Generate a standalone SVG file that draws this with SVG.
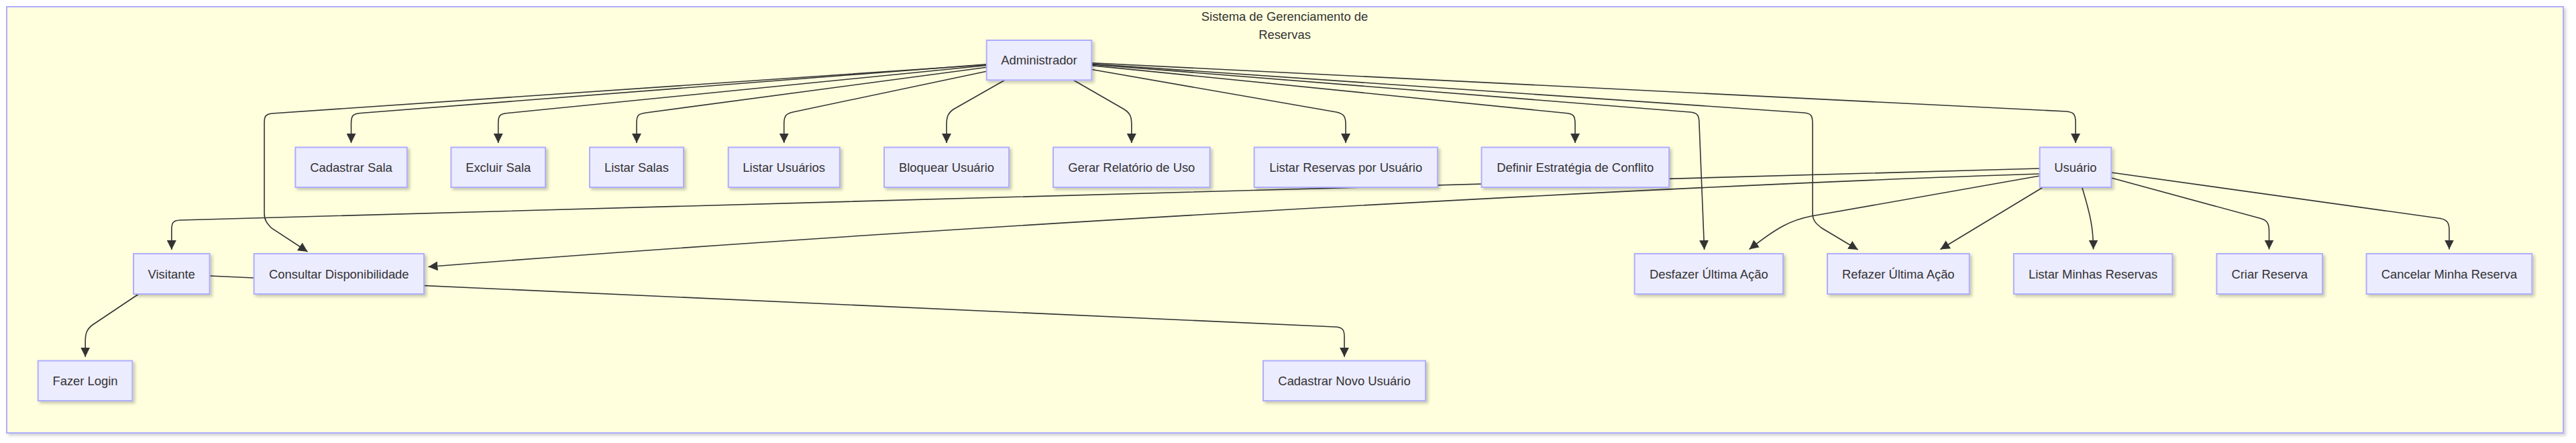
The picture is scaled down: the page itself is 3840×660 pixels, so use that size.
<svg xmlns="http://www.w3.org/2000/svg" width="3840" height="660" viewBox="0 0 3840 660">
<defs>
<style>
.node rect{fill:#ECECFF;stroke:#AEAEFF;stroke-width:2;filter:url(#sh);}
.node text, .title{font-family:"Liberation Sans",Arial,sans-serif;font-size:18.4px;fill:#333;text-anchor:middle;}
.edges path{fill:none;stroke:#333;stroke-width:1.6;marker-end:url(#arr);}
.edges path.plain{marker-end:none;}
.cluster{fill:#FFFFDE;stroke:#AEAEFF;stroke-width:2;filter:url(#shc);}
</style>
<filter id="sh" x="-10%" y="-20%" width="125%" height="150%">
<feDropShadow dx="3" dy="3" stdDeviation="2" flood-color="#000" flood-opacity="0.22"/>
</filter>
<filter id="shc" x="-1%" y="-2%" width="102%" height="105%">
<feDropShadow dx="3" dy="3" stdDeviation="2" flood-color="#000" flood-opacity="0.18"/>
</filter>
<marker id="arr" markerUnits="userSpaceOnUse" viewBox="0 0 14 14" refX="14" refY="7" markerWidth="14" markerHeight="14" orient="auto">
<path d="M0,0 L14,7 L0,14 z" fill="#333"/>
</marker>
</defs>
<rect width="3840" height="660" fill="#FFFFFF"/>
<g id="cluster-sistema">
<rect class="cluster" x="10" y="10" width="3811" height="635"/>
<text class="title" x="1915" y="31">Sistema de Gerenciamento de</text>
<text class="title" x="1915" y="58">Reservas</text>
</g>
<g id="edges" class="edges">
<path d="M1470.7 95.8 L538 168.5 C526 169.5 523.5 172 523.5 184 L523.5 213"/>
<path d="M1470.7 97.5 L757 168.5 C745 169.5 742.7 172 742.7 184 L742.7 213"/>
<path d="M1470.7 100.2 L963 168 C951 169.5 949 172 949 184 L949 213"/>
<path d="M1470.7 106.2 L1182 167 C1171 169.5 1168.7 173 1168.7 185 L1168.7 213"/>
<path d="M1498 119.3 L1421 163 C1413 169 1411 174 1411 186 L1411 213"/>
<path d="M1600 119.3 L1676 163 C1685 169 1686.8 174 1686.8 186 L1686.8 213"/>
<path d="M1627.3 103.5 L1992 167 C2003 169.5 2006 173 2006 185 L2006 213"/>
<path d="M1627.3 97.6 L2334 168.5 C2345 169.5 2348 172 2348 184 L2348 213"/>
<path d="M1627.3 93.8 L3080 166 C3091 167 3094 170 3094 182 L3094 213"/>
<path d="M1470.7 96.5 L406 169 C396 170 394 173 394 183 L394 318 C394 328 398 333 405 340 L458.5 375"/>
<path d="M1627.3 96 L2519 167 C2531 168 2533 172 2533 185 L2540.6 372"/>
<path d="M1627.3 95.2 L2689 168 C2700 169 2702 172 2702 185 L2702 318 C2702 329 2708 334 2716 340 L2769.6 372"/>
<path d="M3040.6 251 L268 328 C258 328.5 255.8 332 255.8 342 L255.8 372"/>
<path d="M3040.6 259 C2400 280 1300 345 638.4 397.5"/>
<path d="M3040.6 262 L2700 322 C2670 328 2650 338 2607.6 371.5"/>
<path d="M3045 279.3 L2892.4 371.5"/>
<path d="M3104 280 C3116 320 3120.5 340 3120.5 371.5"/>
<path d="M3147.2 265 L3370 325.5 C3380 328.5 3382.5 333 3382.5 345 L3382.5 371.5"/>
<path d="M3147.2 257 L3638 325.5 C3648 327.5 3651 332 3651 343 L3651 371.5"/>
<path d="M312.5 411 L1990 487 C2001 487.5 2004 491 2004 501 L2004 531.7"/>
<path d="M206 438.5 L138 484 C130 490 127.2 496 127.2 508 L127.2 531.7"/>
</g>
<g id="node-administrador" class="node"><rect x="1470.7" y="60" width="156.6" height="59.3"/><text x="1549" y="96.2">Administrador</text></g>
<g id="node-cadastrar-sala" class="node"><rect x="440.3" y="219.5" width="166.5" height="59.5"/><text x="523.5" y="255.7">Cadastrar Sala</text></g>
<g id="node-excluir-sala" class="node"><rect x="672.4" y="219.5" width="140.6" height="59.5"/><text x="742.7" y="255.7">Excluir Sala</text></g>
<g id="node-listar-salas" class="node"><rect x="879" y="219.5" width="140" height="59.5"/><text x="949" y="255.7">Listar Salas</text></g>
<g id="node-listar-usuarios" class="node"><rect x="1085.7" y="219.5" width="166.1" height="59.5"/><text x="1168.7" y="255.7">Listar Usuários</text></g>
<g id="node-bloquear-usuario" class="node"><rect x="1318" y="219.5" width="186" height="59.5"/><text x="1411" y="255.7">Bloquear Usuário</text></g>
<g id="node-gerar-relatorio" class="node"><rect x="1570" y="219.5" width="233.6" height="59.5"/><text x="1686.8" y="255.7">Gerar Relatório de Uso</text></g>
<g id="node-listar-reservas-usuario" class="node"><rect x="1869.6" y="219.5" width="273.3" height="59.5"/><text x="2006.2" y="255.7">Listar Reservas por Usuário</text></g>
<g id="node-definir-estrategia" class="node"><rect x="2208.5" y="219.5" width="279.5" height="59.5"/><text x="2348.2" y="255.7">Definir Estratégia de Conflito</text></g>
<g id="node-usuario" class="node"><rect x="3040.6" y="219.5" width="106.6" height="59.5"/><text x="3093.9" y="255.7">Usuário</text></g>
<g id="node-visitante" class="node"><rect x="199" y="378" width="113.5" height="60"/><text x="255.7" y="414.5">Visitante</text></g>
<g id="node-consultar-disponibilidade" class="node"><rect x="378.6" y="378" width="253.4" height="60"/><text x="505.3" y="414.5">Consultar Disponibilidade</text></g>
<g id="node-desfazer" class="node"><rect x="2436.6" y="378" width="221.4" height="60"/><text x="2547.3" y="414.5">Desfazer Última Ação</text></g>
<g id="node-refazer" class="node"><rect x="2724" y="378" width="211.7" height="60"/><text x="2829.8" y="414.5">Refazer Última Ação</text></g>
<g id="node-listar-minhas" class="node"><rect x="3001.8" y="378" width="236.6" height="60"/><text x="3120.1" y="414.5">Listar Minhas Reservas</text></g>
<g id="node-criar-reserva" class="node"><rect x="3304.4" y="378" width="157.6" height="60"/><text x="3383.2" y="414.5">Criar Reserva</text></g>
<g id="node-cancelar-reserva" class="node"><rect x="3527.6" y="378" width="246.8" height="60"/><text x="3651" y="414.5">Cancelar Minha Reserva</text></g>
<g id="node-fazer-login" class="node"><rect x="56.7" y="537.5" width="140.6" height="59.5"/><text x="127" y="573.7">Fazer Login</text></g>
<g id="node-cadastrar-novo-usuario" class="node"><rect x="1883" y="537.5" width="242" height="59.5"/><text x="2004" y="573.7">Cadastrar Novo Usuário</text></g>
</svg>
